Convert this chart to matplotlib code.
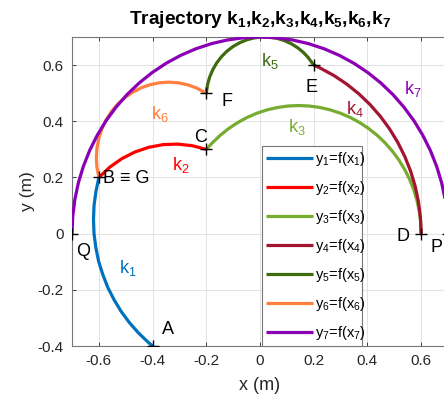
import matplotlib
matplotlib.use("Agg")
import matplotlib.pyplot as plt

plt.rcParams['font.family'] = ['Liberation Sans', 'DejaVu Sans']
plt.rcParams['mathtext.fontset'] = 'custom'
plt.rcParams['mathtext.rm'] = 'Liberation Sans'
plt.rcParams['mathtext.it'] = 'Liberation Sans:italic'
plt.rcParams['mathtext.bf'] = 'Liberation Sans:bold'

# ---- data ----
k1_x = [-0.4, -0.4164, -0.453, -0.4866, -0.517, -0.5436, -0.567, -0.5856, -0.601,
        -0.6113, -0.618, -0.62, -0.618, -0.611, -0.6]
k1_y = [-0.4, -0.3866, -0.353, -0.3164, -0.277, -0.235, -0.191, -0.145, -0.098,
        -0.049, 0.000, 0.05, 0.0997, 0.149, 0.2]

k2_x = [-0.6, -0.5595, -0.5145, -0.4657, -0.4141, -0.3607, -0.3064, -0.2525, -0.2]
k2_y = [0.2, 0.2365, 0.2669, 0.2907, 0.3074, 0.3169, 0.3188, 0.3131, 0.3]

k3_x = [-0.2, -0.1784, -0.149, -0.1176, -0.084, -0.0487, -0.012, 0.026, 0.0648, 0.1043,
        0.144, 0.1837, 0.2232, 0.262, 0.300, 0.3367, 0.372, 0.4056, 0.4371, 0.4664,
        0.4933, 0.5175, 0.5389, 0.5573, 0.5725, 0.5845, 0.5931, 0.5983, 0.6]
k3_y = [0.3, 0.3224, 0.3493, 0.3735, 0.3949, 0.4133, 0.4285, 0.4405, 0.4491, 0.4543,
        0.456, 0.4543, 0.4491, 0.4405, 0.4285, 0.4133, 0.3949, 0.3735, 0.3493, 0.3224,
        0.2931, 0.2616, 0.228, 0.1927, 0.156, 0.1180, 0.0792, 0.0397, 0.0]

k4_x = [0.2, 0.2247, 0.275, 0.3228, 0.3678, 0.4096, 0.4479, 0.4824, 0.5129, 0.5391,
        0.5608, 0.5779, 0.5901, 0.5975, 0.6]
k4_y = [0.6, 0.5891, 0.563, 0.5324, 0.4979, 0.4596, 0.4178, 0.3728, 0.325, 0.2747,
        0.2223, 0.1682, 0.1128, 0.0567, 0.0]

k5_x = [-0.2, -0.1955, -0.1875, -0.176, -0.1613, -0.1435, -0.123, -0.1001, -0.0751,
        -0.0486, -0.021, 0.0072, 0.0356, 0.0637, 0.091, 0.117, 0.1413, 0.1607, 0.1782, 0.2]
k5_y = [0.5, 0.530, 0.5573, 0.5833, 0.6076, 0.6298, 0.6495, 0.6663, 0.6799,
        0.6902, 0.697, 0.7001, 0.6995, 0.6952, 0.6872, 0.6757, 0.661, 0.6457, 0.6284, 0.6]

k6_x = [-0.6, -0.6073, -0.6093, -0.607, -0.6001, -0.5888, -0.5732, -0.5537, -0.5304,
        -0.5039, -0.4747, -0.4431, -0.4097, -0.3752, -0.34, -0.3048, -0.2703, -0.2369, -0.2]
k6_y = [0.2, 0.2372, 0.27, 0.3052, 0.3397, 0.3731, 0.4047, 0.4339, 0.4604,
        0.4837, 0.5032, 0.5188, 0.5301, 0.537, 0.5393, 0.537, 0.5301, 0.5188, 0.5]

k7_x = [-0.7, -0.6973, -0.6894, -0.6762, -0.6578, -0.6344, -0.6062, -0.5734, -0.5362,
        -0.4950, -0.45, -0.4015, -0.35, -0.2958, -0.2394, -0.1812, -0.1216, -0.0610, 0.0,
        0.0610, 0.1216, 0.1812, 0.2394, 0.2958, 0.35, 0.4015, 0.45, 0.4950, 0.5362,
        0.5734, 0.6062, 0.6344, 0.6578, 0.6762, 0.6894, 0.6973, 0.7]
k7_y = [0.0, 0.0610, 0.1216, 0.1812, 0.2394, 0.2958, 0.35, 0.4015, 0.45,
        0.4950, 0.5362, 0.5734, 0.6062, 0.6344, 0.6578, 0.6762, 0.6894, 0.6973, 0.7,
        0.6973, 0.6894, 0.6762, 0.6578, 0.6344, 0.6062, 0.5734, 0.5362, 0.4950, 0.45,
        0.4015, 0.35, 0.2958, 0.2394, 0.1812, 0.1216, 0.0610, 0.0]

point_names = ['A', 'B', 'C', 'D', 'E', 'F', 'Q', 'P']
point_x = [-0.4, -0.6, -0.2, 0.6, 0.2, -0.2, -0.7, 0.7]
point_y = [-0.4, 0.2, 0.3, 0.0, 0.6, 0.5, 0.0, 0.0]

label_texts = ['A', 'B ≡ G', 'C', 'D', 'E', 'F', 'Q', 'P']
label_x = [-0.342, -0.585, -0.223, 0.532, 0.193, -0.123, -0.658, 0.658]
label_y = [-0.343, 0.196, 0.343, -0.011, 0.521, 0.471, -0.064, -0.05]

curve_names = ['k$_1$', 'k$_2$', 'k$_3$', 'k$_4$', 'k$_5$', 'k$_6$', 'k$_7$']
curve_label_x = [-0.494, -0.294, 0.138, 0.353, 0.037, -0.372, 0.569]
curve_label_y = [-0.121, 0.246, 0.379, 0.443, 0.614, 0.425, 0.514]
legend_labels = ['y$_1$=f(x$_1$)', 'y$_2$=f(x$_2$)', 'y$_3$=f(x$_3$)', 'y$_4$=f(x$_4$)',
                 'y$_5$=f(x$_5$)', 'y$_6$=f(x$_6$)', 'y$_7$=f(x$_7$)']
colors = ['#0072BD', '#FF0000', '#77AC30', '#A2142F', '#3D6B0E', '#FF7F3F', '#8A00B5']

x_ticks = [-0.6, -0.4, -0.2, 0, 0.2, 0.4, 0.6]
y_ticks = [-0.4, -0.2, 0, 0.2, 0.4, 0.6]

# ---- figure ----
fig = plt.figure(figsize=(4.44, 4.03), dpi=100)
ax = fig.add_axes([72/444, 1 - 346/403, 376/444, (346 - 37)/403])

curves = [(k1_x, k1_y), (k2_x, k2_y), (k3_x, k3_y), (k4_x, k4_y),
          (k5_x, k5_y), (k6_x, k6_y), (k7_x, k7_y)]
handles = []
for (cx, cy), c, lab in zip(curves, colors, legend_labels):
    h, = ax.plot(cx, cy, color=c, lw=2.3, label=lab, solid_capstyle='butt',
                 solid_joinstyle='round', zorder=3)
    handles.append(h)

ax.plot(point_x, point_y, linestyle='none', marker='+', color='black',
        markersize=8, markeredgewidth=1.0, zorder=5)

for t, x, y in zip(label_texts, label_x, label_y):
    ha = 'left' if t.startswith('B') else 'center'
    ax.text(x, y, t, fontsize=13, color='black', ha=ha, va='center', zorder=6)

for t, x, y, c in zip(curve_names, curve_label_x, curve_label_y, colors):
    ax.text(x, y, t, fontsize=13, color=c, ha='center', va='center', zorder=6)

ax.set_xlim(-0.7, 0.7)
ax.set_ylim(-0.4, 0.7)
ax.set_xticks(x_ticks)
ax.set_yticks(y_ticks)
ax.set_xticklabels(['0' if v == 0 else f'{v:g}' for v in x_ticks])
ax.set_yticklabels(['0' if v == 0 else f'{v:g}' for v in y_ticks])
ax.tick_params(direction='in', length=3, width=0.6, colors='#262626',
               labelsize=11, top=True, right=True, pad=6)
for s in ax.spines.values():
    s.set_color('#777777')
    s.set_linewidth(0.8)
ax.grid(True, color='#e3e3e3', linewidth=0.7)
ax.set_axisbelow(True)

ax.set_xlabel('x (m)', fontsize=13, color='#262626', labelpad=6)
ax.set_ylabel('y (m)', fontsize=12.5, color='#262626', labelpad=2)
ax.set_title('Trajectory k$_\\mathbf{1}$,k$_\\mathbf{2}$,k$_\\mathbf{3}$,k$_\\mathbf{4}$,'
             'k$_\\mathbf{5}$,k$_\\mathbf{6}$,k$_\\mathbf{7}$',
             fontsize=13.8, fontweight='bold', pad=9)

leg = ax.legend(handles=handles, loc='lower left', bbox_to_anchor=(0.505, 0.0, 0.267, 0.64),
                mode='expand', fontsize=10.5, frameon=True, fancybox=False,
                handlelength=3.2, handletextpad=0.15, borderpad=0.3, labelspacing=0.75,
                borderaxespad=0.0)
leg.get_frame().set_edgecolor('#777777')
leg.get_frame().set_linewidth(0.8)
leg.get_frame().set_alpha(1.0)
leg.set_zorder(4)

fig.savefig('out.png', dpi=100)
